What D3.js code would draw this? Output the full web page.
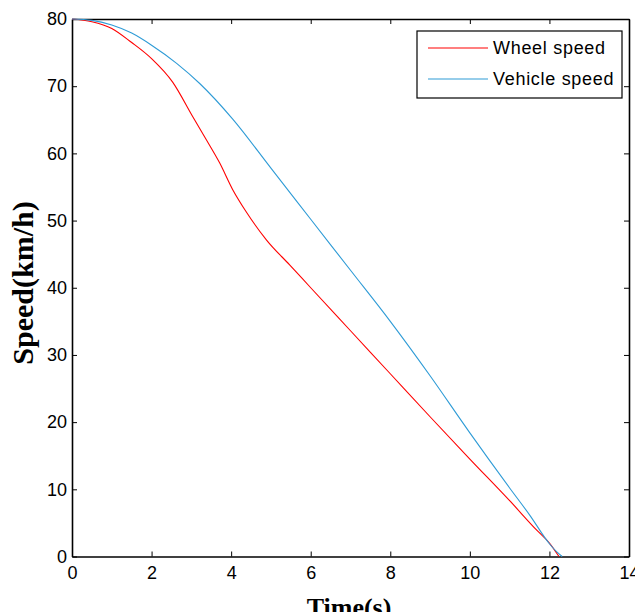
<!DOCTYPE html>
<html>
<head>
<meta charset="utf-8">
<script src="https://cdn.jsdelivr.net/npm/d3@7"></script>
<style>
  html, body { margin: 0; padding: 0; background: #fff; }
  svg { display: block; }
</style>
</head>
<body>
<svg id="chart"></svg>
<script>
// wheel speed (red)
var wheelTime  = [0, 0.5, 1, 1.5, 2, 2.53, 3.04, 3.38, 3.71, 4.04, 4.39, 4.89, 5.47, 6, 7, 8, 9, 10, 11, 11.7, 12, 12.24];
var wheelSpeed = [80, 79.6, 78.6, 76.5, 74.1, 70.6, 65.4, 62, 58.6, 54.6, 51.2, 47.1, 43.4, 40.0, 33.6, 27.2, 20.8, 14.5, 8.3, 3.8, 2.0, 0];

// vehicle speed (blue)
var vehicleTime  = [0, 0.5, 1, 1.5, 2, 2.63, 3.21, 4.04, 5, 6, 7, 8, 9, 10, 11, 11.5, 12, 12.2, 12.32];
var vehicleSpeed = [80, 79.8, 79.1, 77.9, 76.1, 73.4, 70.4, 65.1, 57.8, 50.2, 42.6, 35.0, 26.9, 18.4, 10.2, 6.2, 1.9, 0.6, 0];

var xTicks = [0, 2, 4, 6, 8, 10, 12, 14];
var yTicks = [0, 10, 20, 30, 40, 50, 60, 70, 80];
var seriesNames = ["Wheel speed", "Vehicle speed"];
var seriesColors = ["#ff0000", "#2e9bd6"];

var width = 635, height = 612;
var marginLeft = 72, marginRight = 5, marginTop = 19, marginBottom = 55;

var svg = d3.select("#chart")
    .attr("width", width)
    .attr("height", height)
    .attr("viewBox", [0, 0, width, height]);

var x = d3.scaleLinear().domain([0, 14]).range([marginLeft, width - marginRight - 1]);
var y = d3.scaleLinear().domain([0, 80]).range([height - marginBottom - 0.5, marginTop]);

var tickFont = "'Liberation Sans', Arial, sans-serif";
var titleFont = "'Liberation Serif', 'Times New Roman', serif";

// bottom axis with inward ticks
svg.append("g")
    .attr("transform", `translate(0,${y(0)})`)
    .call(d3.axisBottom(x).tickValues(xTicks).tickSize(-5).tickPadding(10).tickSizeOuter(0))
    .call(g => g.select(".domain").attr("stroke-width", 1.6))
    .call(g => g.selectAll("text").attr("font-size", 18).attr("font-family", tickFont).attr("fill", "#000"));

// top axis (no labels)
svg.append("g")
    .attr("transform", `translate(0,${y(80)})`)
    .call(d3.axisTop(x).tickValues(xTicks).tickSize(-5).tickFormat("").tickSizeOuter(0))
    .call(g => g.select(".domain").attr("stroke-width", 1.6));

// left axis
svg.append("g")
    .attr("transform", `translate(${x(0)},0)`)
    .call(d3.axisLeft(y).tickValues(yTicks).tickSize(-5).tickPadding(5).tickSizeOuter(0))
    .call(g => g.select(".domain").attr("stroke-width", 1.6))
    .call(g => g.selectAll("text").attr("font-size", 18).attr("font-family", tickFont).attr("fill", "#000"));

// right axis (no labels)
svg.append("g")
    .attr("transform", `translate(${x(14)},0)`)
    .call(d3.axisRight(y).tickValues(yTicks).tickSize(-5).tickFormat("").tickSizeOuter(0))
    .call(g => g.select(".domain").attr("stroke-width", 1.6));

var line = d3.line()
    .x(d => x(d[0]))
    .y(d => y(d[1]))
    .curve(d3.curveMonotoneX);

var series = [
  d3.zip(wheelTime, wheelSpeed),
  d3.zip(vehicleTime, vehicleSpeed)
];

svg.append("g")
    .selectAll("path")
    .data(series)
    .join("path")
      .attr("fill", "none")
      .attr("stroke", (d, i) => seriesColors[i])
      .attr("stroke-width", 1.1)
      .attr("d", line);

// legend
var legend = svg.append("g").attr("transform", "translate(417,31)");
legend.append("rect")
    .attr("width", 205)
    .attr("height", 67)
    .attr("fill", "#fff")
    .attr("stroke", "#000")
    .attr("stroke-width", 1.2);

var item = legend.selectAll(".item")
  .data(seriesNames)
  .join("g")
    .attr("class", "item")
    .attr("transform", (d, i) => `translate(0,${17 + i * 31})`);

item.append("line")
    .attr("x1", 11).attr("x2", 71)
    .attr("stroke", (d, i) => seriesColors[i])
    .attr("stroke-width", 1.1);

item.append("text")
    .attr("x", 76)
    .attr("dy", "0.35em")
    .attr("font-size", 18)
    .attr("letter-spacing", 0.7)
    .attr("font-family", tickFont)
    .text(d => d);

// axis titles
svg.append("text")
    .attr("x", 349)
    .attr("y", 616)
    .attr("text-anchor", "middle")
    .attr("font-family", titleFont)
    .attr("font-weight", "bold")
    .attr("font-size", 26)
    .text("Time(s)");

svg.append("text")
    .attr("transform", "translate(33,283) rotate(-90)")
    .attr("text-anchor", "middle")
    .attr("font-family", titleFont)
    .attr("font-weight", "bold")
    .attr("font-size", 30)
    .text("Speed(km/h)");
</script>
</body>
</html>
